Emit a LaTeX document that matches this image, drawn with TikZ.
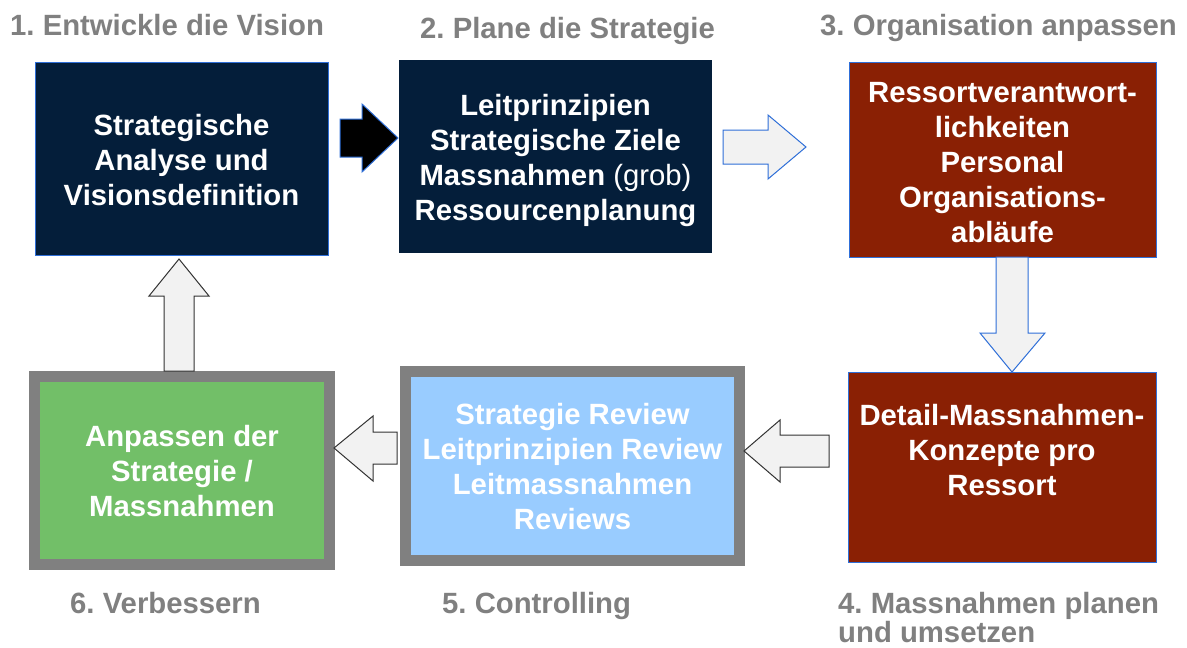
\documentclass[tikz,border=0pt]{standalone}
\usepackage{fontspec}
\setmainfont{Liberation Sans}
\usetikzlibrary{calc}
\definecolor{navy}{HTML}{041E3A}
\definecolor{maroon}{HTML}{8A2004}
\definecolor{greenbox}{HTML}{72BF68}
\definecolor{lightbluebox}{HTML}{99CCFF}
\definecolor{framegray}{HTML}{808080}
\definecolor{afill}{HTML}{F2F2F2}
\definecolor{bblue}{HTML}{2F6FD8}
\definecolor{labgray}{HTML}{808080}
\newcommand\mainfnt{\frenchspacing\bfseries\fontsize{29.3}{35}\selectfont}
\begin{document}
\begin{tikzpicture}[x=1pt,y=-1pt,
  box/.style={rectangle, inner sep=0pt},
  txt/.style={inner sep=0pt, text=white, font=\mainfnt, align=center},
  lab/.style={text=labgray, font=\mainfnt, inner sep=0pt, anchor=base west, align=left},
  barrow/.style={draw=bblue, line width=1pt, line join=miter},
  karrow/.style={draw=black!80, line width=1pt, fill=afill, line join=miter},
]
\useasboundingbox[fill=white] (0,0) rectangle (1187,648);

% boxes
\node[box, fill=navy, draw=bblue, line width=1pt, minimum width=293pt, minimum height=193pt] (b1) at (181.5,158.5) {};
\node[box, fill=navy, minimum width=313pt, minimum height=193pt] (b2) at (555.5,156.5) {};
\node[box, fill=maroon, draw=bblue, line width=1pt, minimum width=307pt, minimum height=195pt] (b3) at (1002.5,159.5) {};
\node[box, fill=maroon, draw=bblue, line width=1pt, minimum width=308pt, minimum height=190pt] (b4) at (1002,467) {};
\node[box, fill=lightbluebox, draw=framegray, line width=11pt, minimum width=334pt, minimum height=189pt] (b5) at (572.5,466) {};
\node[box, fill=greenbox, draw=framegray, line width=11pt, minimum width=295pt, minimum height=188pt] (b6) at (182,470.5) {};

% box texts
\node[txt] (t1) at ($(b1.center)+(0,2)$) {Strategische\\Analyse und\\Visionsdefinition};
\node[txt] (t2) at ($(b2.center)+(0,4)$) {Leitprinzipien\\Strategische Ziele\\Massnahmen {\mdseries(grob)}\\Ressourcenplanung};
\node[txt] (t3) at ($(b3.center)+(0,3)$) {Ressortverantwort-\\lichkeiten\\Personal\\Organisations-\\abläufe};
\node[txt] (t4) at ($(b4.center)+(0,-17)$) {Detail-Massnahmen-\\Konzepte pro\\Ressort};
\node[txt] (t5) at ($(b5.center)+(0,1)$) {Strategie Review\\Leitprinzipien Review\\Leitmassnahmen\\Reviews};
\node[txt] (t6) at ($(b6.center)+(0,1)$) {Anpassen der\\Strategie /\\Massnahmen};

% block arrows
% 1 -> 2 (black)
\draw[barrow, fill=black] (340,119) -- (362,119) -- (362,104) -- (398,138) -- (362,172) -- (362,157) -- (340,157) -- cycle;
% 2 -> 3
\draw[barrow, fill=afill] (723,130) -- (768,130) -- (768,115) -- (806,147) -- (768,179) -- (768,164) -- (723,164) -- cycle;
% 3 -> 4
\draw[barrow, fill=afill] (996,257) -- (1028,257) -- (1028,333) -- (1045,333) -- (1012,372) -- (980,333) -- (996,333) -- cycle;
% 4 -> 5
\draw[karrow] (829,435) -- (780,435) -- (780,420) -- (744,451) -- (780,482) -- (780,467) -- (829,467) -- cycle;
% 5 -> 6
\draw[karrow] (397,432) -- (373,432) -- (373,416) -- (334,448) -- (373,481) -- (373,464) -- (397,464) -- cycle;
% 6 -> 1
\draw[karrow] (164,371) -- (164,296) -- (149,296) -- (179,259) -- (209,296) -- (194,296) -- (194,371) -- cycle;

% labels
\node[lab] (l1) at (10,35) {1. Entwickle die Vision};
\node[lab] (l2) at (420,38) {2. Plane die Strategie};
\node[lab] (l3) at (820,35) {3. Organisation anpassen};
\node[lab] (l6) at (70,613) {6. Verbessern};
\node[lab] (l5) at (442,613) {5. Controlling};
\node[lab] (l4) at (838,613) {4. Massnahmen planen};
\node[lab] (l4b) at (838,642) {und umsetzen};
\end{tikzpicture}
\end{document}
